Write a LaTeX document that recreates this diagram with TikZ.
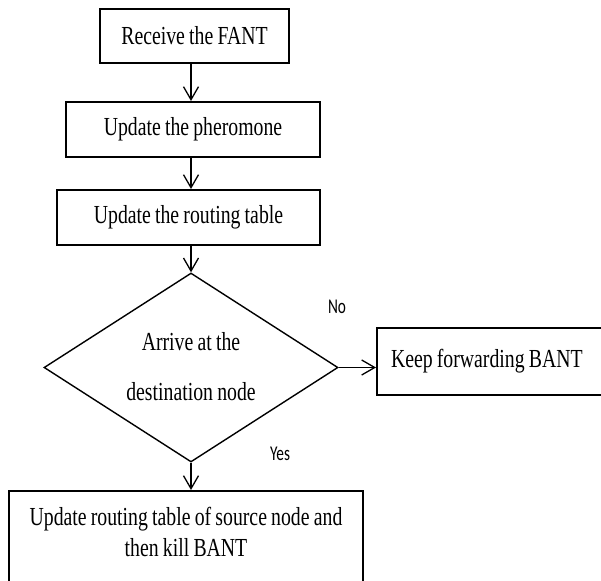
\documentclass[tikz,border=0pt]{standalone}
\usepackage{fontspec}
\setmainfont{Liberation Serif}[FakeStretch=0.76, WordSpace=0.85]
\newfontfamily\labelfont{Carlito}[FakeStretch=0.73]
\usetikzlibrary{shapes.geometric,arrows.meta}
\begin{document}
\begin{tikzpicture}[x=1pt,y=-1pt,
  every node/.style={font=\fontsize{26}{31}\selectfont},
  box/.style={draw, line width=2pt, inner sep=0pt},
  decision/.style={draw, diamond, line width=1.4pt, inner sep=0pt},
  flow/.style={line width=1.3pt, -{Straight Barb[length=13pt,width=15pt,line width=1.3pt]}},
  lab/.style={font=\labelfont\fontsize{21}{24}\selectfont}]
\useasboundingbox (0,0) rectangle (601,580);
\clip (0,0) rectangle (601,580);
\node[box, minimum width=189pt, minimum height=54pt] (b1) at (194.5,36) {Receive the FANT};
\node[box, minimum width=254pt, minimum height=55pt] (b2) at (193,129.5) {Update the pheromone};
\node[box, minimum width=263pt, minimum height=55pt] (b3) at (188.5,217.5) {Update the routing table};
\node[decision, minimum width=294pt, minimum height=189pt] (dia) at (191,367.5) {};
\node[align=center] (diatxt) at (191,367) {Arrive at the\\[19pt]destination node};
\node[box, anchor=west, minimum width=240pt, minimum height=67pt, text width=212pt, inner xsep=14pt, align=flush left] (keep) at (376,361.5) {Keep forwarding BANT};
\node[box, anchor=north, minimum width=354pt, minimum height=130pt] (final) at (186,490) {};
\node[align=center] (finaltxt) at (186,532) {Update routing table of source node and\\then kill BANT};
\draw[flow] (b1.south -| dia.north) -- (b2.north -| dia.north);
\draw[flow] (b2.south -| dia.north) -- (b3.north -| dia.north);
\draw[flow] (b3.south -| dia.north) -- (dia.north);
\draw[flow] (dia.east) -- (dia.east -| keep.west);
\draw[flow] (dia.south) -- (final.north -| dia.south);
\node[lab] (no) at (337,307) {No};
\node[lab] (yes) at (280,454) {Yes};
\end{tikzpicture}
\end{document}
